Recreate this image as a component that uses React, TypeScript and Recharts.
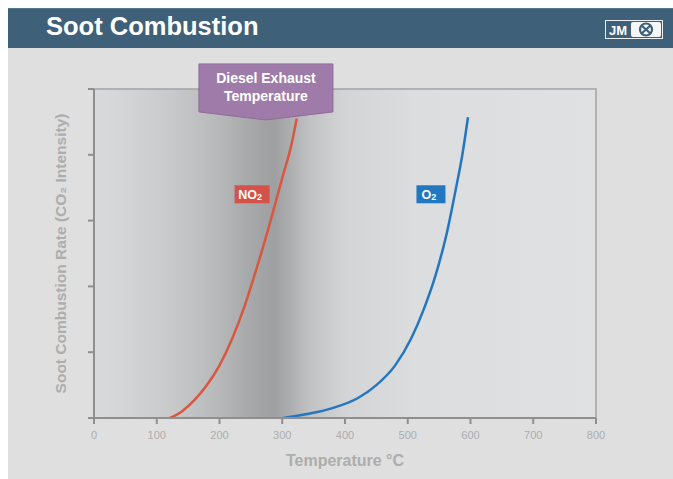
import React from 'react'
import {
  LineChart, Line, XAxis, YAxis, ReferenceArea, ReferenceDot,
} from 'recharts'

// temperature (°C) vs relative combustion rate
const no2Temps = [121, 140, 160, 180, 200, 220, 240, 260, 280, 300, 315, 323]
const no2Rates = [0, 0.1, 0.27, 0.5, 0.8, 1.2, 1.7, 2.3, 2.95, 3.65, 4.17, 4.55]
const o2Temps = [302, 340, 380, 420, 450, 480, 505, 525, 545, 562, 576, 587, 596]
const o2Rates = [0, 0.06, 0.15, 0.3, 0.5, 0.8, 1.2, 1.64, 2.19, 2.8, 3.45, 4.0, 4.57]
const xTicks = [0, 100, 200, 300, 400, 500, 600, 700, 800]
const yTicks = [0, 1, 2, 3, 4, 5]

const no2Data = no2Temps.map((t, i) => ({ temp: t, rate: no2Rates[i] }))
const o2Data = o2Temps.map((t, i) => ({ temp: t, rate: o2Rates[i] }))

const FONT = '"Liberation Sans", Arial, sans-serif'
const HEADER = '#3e6079'
const PANEL = '#dfdfdf'
const AXIS = '#8f8f8f'
const TEXT = '#adadad'

function Callout(props: any) {
  const { cx, cy } = props
  const w = 134
  const top = cy - 56
  const shoulder = cy - 8
  const pts = [
    [cx - w / 2, top], [cx + w / 2, top], [cx + w / 2, shoulder],
    [cx, cy], [cx - w / 2, shoulder],
  ].map((p) => p.join(',')).join(' ')
  return (
    <g>
      <polygon points={pts} fill="#9f7ba9" stroke="#8f6c99" strokeWidth={1} strokeLinejoin="round" />
      <text x={cx} y={top + 19} textAnchor="middle" fill="#fff" fontSize={14} fontWeight="bold" fontFamily={FONT}>
        Diesel Exhaust
      </text>
      <text x={cx} y={top + 37} textAnchor="middle" fill="#fff" fontSize={14} fontWeight="bold" fontFamily={FONT}>
        Temperature
      </text>
    </g>
  )
}

function Tag(props: any) {
  const { cx, cy, color, main, sub, w } = props
  return (
    <g>
      <rect x={cx - w / 2} y={cy - 9} width={w} height={18} fill={color} />
      <text x={cx - 2} y={cy + 4.5} textAnchor="middle" fill="#fff" fontSize={12.5} fontWeight="bold" fontFamily={FONT}>
        {main}
        <tspan fontSize={9} dy={1}>{sub}</tspan>
      </text>
    </g>
  )
}

function Logo() {
  return (
    <svg width={58} height={19} style={{ position: 'absolute', left: 597, top: 11 }}>
      <rect x={0.5} y={0.5} width={57} height={18} fill="none" stroke="#e8eef2" strokeWidth={1} />
      <text x={13} y={14.5} textAnchor="middle" fill="#fff" fontSize={13} fontWeight="bold" fontFamily={FONT}>JM</text>
      <rect x={26} y={2} width={30} height={15} rx={2} fill="#f4f6f8" />
      <circle cx={41} cy={9.5} r={6} fill="none" stroke={HEADER} strokeWidth={2.2} />
      <line x1={36} y1={5} x2={46} y2={14} stroke={HEADER} strokeWidth={2.2} />
      <line x1={46} y1={5} x2={36} y2={14} stroke={HEADER} strokeWidth={2.2} />
    </svg>
  )
}

export default function App() {
  return (
    <div
      style={{
        position: 'fixed', left: 8, top: 8, width: 665, height: 471,
        background: PANEL, fontFamily: FONT, overflow: 'hidden',
      }}
    >
      <div
        style={{
          position: 'absolute', left: 0, top: 0, width: 665, height: 40,
          background: HEADER, borderTop: '1px solid #58778d', boxSizing: 'border-box',
        }}
      >
        <div style={{ position: 'absolute', left: 38, top: 3, color: '#fff', fontSize: 25.5, fontWeight: 'bold', fontFamily: FONT }}>
          Soot Combustion
        </div>
        <Logo />
      </div>
      <div style={{ position: 'absolute', left: 0, top: 0 }}>
        <LineChart width={665} height={471} margin={{ top: 81, right: 77, bottom: 11, left: 0 }}>
          <defs>
            <linearGradient id="plotBg" x1="0" y1="0" x2="1" y2="0">
              <stop offset="0" stopColor="#d9dadb" />
              <stop offset="0.06" stopColor="#d3d5d6" />
              <stop offset="0.16" stopColor="#c6c8c9" />
              <stop offset="0.24" stopColor="#b8babb" />
              <stop offset="0.31" stopColor="#a6a8aa" />
              <stop offset="0.36" stopColor="#9d9fa1" />
              <stop offset="0.385" stopColor="#a9abad" />
              <stop offset="0.43" stopColor="#c0c2c4" />
              <stop offset="0.5" stopColor="#d2d4d5" />
              <stop offset="0.64" stopColor="#dcdddf" />
              <stop offset="1" stopColor="#e0e1e2" />
            </linearGradient>
          </defs>
          <ReferenceArea
            x1={0} x2={800} y1={0} y2={5}
            fill="url(#plotBg)" fillOpacity={1}
            stroke="#a3a3a3" strokeWidth={1.5}
            ifOverflow="visible"
          />
          <XAxis
            type="number"
            dataKey="temp"
            domain={[0, 800]}
            ticks={xTicks}
            allowDataOverflow
            stroke={AXIS}
            strokeWidth={2}
            tickSize={6}
            tickMargin={7}
            height={50}
            tick={{ fontSize: 11, fill: TEXT, fontFamily: FONT }}
            label={{
              value: 'Temperature °C', position: 'insideBottom', offset: 2,
              fill: TEXT, fontSize: 16, fontWeight: 'bold', fontFamily: FONT,
            }}
          />
          <YAxis
            type="number"
            domain={[0, 5]}
            ticks={yTicks}
            width={86}
            stroke={AXIS}
            strokeWidth={2}
            tickSize={6}
            tickFormatter={() => ''}
            label={{
              value: 'Soot Combustion Rate  (CO₂ Intensity)', angle: -90, position: 'center', dx: 9,
              fill: TEXT, fontSize: 15.5, fontWeight: 'bold', fontFamily: FONT,
            }}
          />
          <Line
            data={no2Data}
            dataKey="rate"
            type="monotone"
            stroke="#d9573f"
            strokeWidth={2.5}
            dot={false}
            isAnimationActive={false}
          />
          <Line
            data={o2Data}
            dataKey="rate"
            type="monotone"
            stroke="#2476c0"
            strokeWidth={2.5}
            dot={false}
            isAnimationActive={false}
          />
          <ReferenceDot
            x={252} y={3.4} ifOverflow="visible"
            shape={(p: any) => <Tag {...p} color="#d5524a" main="NO" sub="2" w={35} />}
          />
          <ReferenceDot
            x={537} y={3.4} ifOverflow="visible"
            shape={(p: any) => <Tag {...p} color="#1f78c1" main="O" sub="2" w={29} />}
          />
          <ReferenceDot x={274} y={4.53} ifOverflow="visible" shape={(p: any) => <Callout {...p} />} />
        </LineChart>
      </div>
    </div>
  )
}
